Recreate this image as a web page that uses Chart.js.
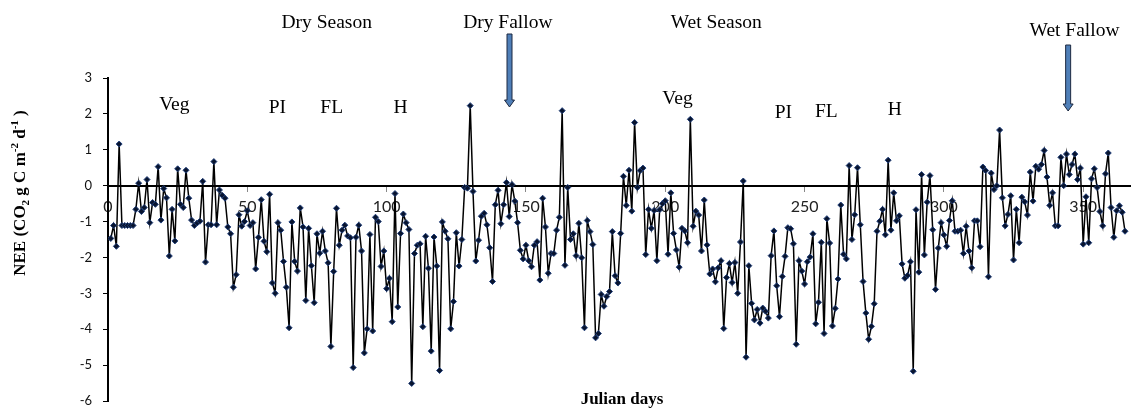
<!DOCTYPE html>
<html>
<head>
<meta charset="utf-8">
<title>NEE by Julian day</title>
<style>
  html, body { margin: 0; padding: 0; background: #ffffff; }
  #wrap { width: 1135px; height: 408px; position: relative; }
</style>
<script src="https://cdn.jsdelivr.net/npm/chart.js@4.4.1/dist/chart.umd.min.js"></script>
</head>
<body>
<div id="wrap"><canvas id="nee" width="1135" height="408"></canvas></div>
<script>
// Daily net ecosystem exchange (g C m-2 d-1), one value per Julian day starting at day 1
const firstDay = 1;
const neeValues = [
  -1.47, -1.11, -1.69, 1.16, -1.11, -1.11, -1.11, -1.11, -1.11, -0.66,
  0.07, -0.72, -0.61, 0.17, -1.03, -0.47, -0.52, 0.53, -0.96, -0.08,
  -0.34, -1.96, -0.66, -1.54, 0.47, -0.52, -0.61, 0.43, -0.35, -0.96,
  -1.11, -1.04, -0.99, 0.12, -2.13, -1.09, -1.09, 0.67, -1.09, -0.12,
  -0.27, -0.35, -1.15, -1.34, -2.83, -2.48, -0.81, -1.13, -1.00, -0.70,
  -1.11, -1.03, -2.32, -1.44, -0.39, -1.55, -1.84, -0.24, -2.71, -3.00,
  -1.03, -1.24, -2.11, -2.83, -3.96, -1.01, -2.11, -2.38, -0.62, -1.15,
  -3.20, -1.19, -2.23, -3.26, -1.34, -1.88, -1.27, -1.82, -2.15, -4.48,
  -2.39, -0.63, -1.66, -1.24, -1.10, -1.40, -1.45, -5.07, -1.44, -1.10,
  -1.82, -4.66, -3.99, -1.36, -4.05, -0.88, -1.00, -2.25, -1.82, -2.87,
  -2.58, -3.79, -0.22, -3.38, -1.33, -0.79, -1.03, -1.22, -5.51, -1.89,
  -1.66, -1.62, -3.93, -1.41, -2.30, -4.61, -1.43, -2.24, -5.15, -1.01,
  -1.27, -1.48, -3.99, -3.23, -1.31, -2.24, -1.50, -0.05, -0.07, 2.23,
  -0.16, -2.10, -1.52, -0.85, -0.77, -1.09, -1.73, -2.67, -0.53, -0.13,
  -1.06, -0.53, 0.09, -0.86, 0.03, -0.43, -1.03, -1.80, -2.04, -1.66,
  -2.09, -2.26, -1.66, -1.56, -2.63, -0.35, -1.15, -2.44, -1.89, -1.89,
  -1.24, -0.88, 2.09, -2.22, -0.05, -1.50, -1.34, -1.95, -1.05, -2.01,
  -3.96, -0.97, -1.28, -1.64, -4.24, -4.12, -3.03, -3.36, -3.09, -2.95,
  -1.28, -2.51, -2.71, -1.33, 0.26, -0.55, 0.43, -0.71, 1.76, -0.05,
  0.42, 0.49, -1.92, -0.66, -1.19, -0.69, -2.09, -0.67, -0.50, -0.42,
  -1.91, -0.20, -1.33, -1.79, -2.27, -1.19, -1.26, -1.59, 1.85, -1.13,
  -0.71, -0.82, -1.82, -0.40, -1.65, -2.46, -2.32, -2.68, -2.29, -2.09,
  -3.98, -2.56, -2.17, -2.70, -2.14, -3.00, -1.57, 0.13, -4.78, -2.23,
  -3.28, -3.74, -3.45, -3.83, -3.41, -3.50, -3.69, -1.95, -1.26, -2.79,
  -3.65, -2.53, -1.97, -1.17, -1.20, -1.62, -4.42, -2.09, -2.38, -2.74,
  -2.12, -1.99, -1.34, -3.85, -3.25, -1.58, -4.12, -0.92, -1.60, -3.91,
  -3.42, -2.60, -0.54, -1.91, -2.04, 0.56, -1.50, -0.81, 0.50, -1.09,
  -2.67, -3.55, -4.28, -3.92, -3.29, -1.27, -0.99, -0.66, -1.37, 0.71,
  -1.24, -0.20, -0.98, -0.84, -2.18, -2.58, -2.50, -2.12, -5.17, -0.67,
  -2.41, 0.31, -1.93, -0.46, 0.28, -1.23, -2.89, -1.74, -1.03, -1.37,
  -1.69, -0.97, -0.42, -1.27, -1.27, -1.24, -1.89, -1.13, -1.82, -2.29,
  -0.98, -0.98, -1.70, 0.52, 0.42, -2.54, 0.35, -0.11, 0.00, 1.55,
  -0.34, -1.12, -0.80, -0.28, -2.07, -0.66, -1.59, -0.32, -0.45, -0.82,
  0.38, -0.43, 0.54, 0.46, 0.59, 0.98, 0.24, -0.55, -0.20, -1.12,
  -1.12, 0.79, 0.00, 0.88, 0.31, 0.59, 0.88, 0.17, 0.49, -1.63,
  -0.31, -1.59, 0.19, 0.47, -0.05, -0.72, -1.12, 0.33, 0.91, -0.61,
  -1.44, -0.70, -0.56, -0.74, -1.27
];

// Axis ticks
const xTickValues = [0, 50, 100, 150, 200, 250, 300, 350];
const yTickValues = [3, 2, 1, 0, -1, -2, -3, -4, -5, -6];

// Season headings above the plot (label, centre day, baseline px)
const seasonNames = ['Dry Season', 'Dry Fallow', 'Wet Season', 'Wet Fallow'];
const seasonDays = [78.5, 143.5, 218.3, 346.9];
const seasonBaselines = [28, 28, 28, 36];

// Crop growth stages (label, centre day, baseline px)
const stageNames = ['Veg', 'PI', 'FL', 'H', 'Veg', 'PI', 'FL', 'H'];
const stageDays = [23.8, 60.8, 80.3, 105, 204.4, 242.4, 257.8, 282.4];
const stageBaselines = [110, 113, 113, 113, 104, 118, 117, 115];

// Fallow markers (arrow day, arrow top px, arrow tip px)
const fallowArrowDays = [144.1, 344.6];
const fallowArrowTops = [34, 45];
const fallowArrowTips = [107, 111];

const points = neeValues.map((v, i) => ({ x: firstDay + i, y: v }));

function blockArrow(ctx, cx, top, tip, shaftW, headW, headH) {
  ctx.beginPath();
  ctx.moveTo(cx - shaftW / 2, top);
  ctx.lineTo(cx + shaftW / 2, top);
  ctx.lineTo(cx + shaftW / 2, tip - headH);
  ctx.lineTo(cx + headW / 2, tip - headH);
  ctx.lineTo(cx, tip);
  ctx.lineTo(cx - headW / 2, tip - headH);
  ctx.lineTo(cx - shaftW / 2, tip - headH);
  ctx.closePath();
  ctx.fillStyle = '#4f7fb8';
  ctx.fill();
  ctx.lineWidth = 1;
  ctx.strokeStyle = '#1d2940';
  ctx.stroke();
}

// Rotated y-axis title with sub/superscripts
function drawYTitle(ctx, cx, cy) {
  const size = 17;
  const small = 11;
  const parts = [
    { t: 'NEE (CO', s: size, dy: 0 },
    { t: '2', s: small, dy: 4 },
    { t: ' g C m', s: size, dy: 0 },
    { t: '-2', s: small, dy: -7 },
    { t: ' d', s: size, dy: 0 },
    { t: '-1', s: small, dy: -7 },
    { t: ' )', s: size, dy: 0 }
  ];
  ctx.save();
  ctx.translate(cx, cy);
  ctx.rotate(-Math.PI / 2);
  ctx.fillStyle = '#000';
  ctx.textBaseline = 'alphabetic';
  ctx.textAlign = 'left';
  let total = 0;
  parts.forEach(p => {
    ctx.font = 'bold ' + p.s + 'px "Liberation Serif", serif';
    p.w = ctx.measureText(p.t).width;
    total += p.w;
  });
  let x = -total / 2;
  parts.forEach(p => {
    ctx.font = 'bold ' + p.s + 'px "Liberation Serif", serif';
    ctx.fillText(p.t, x, p.dy);
    x += p.w;
  });
  ctx.restore();
}

const annotations = {
  id: 'seasonAnnotations',
  afterDraw(chart) {
    const ctx = chart.ctx;
    const xs = chart.scales.x;
    const area = chart.chartArea;
    ctx.save();
    fallowArrowDays.forEach((d, i) => {
      blockArrow(ctx, xs.getPixelForValue(d), fallowArrowTops[i], fallowArrowTips[i], 5, 10, 7);
    });
    ctx.fillStyle = '#000';
    ctx.textAlign = 'center';
    ctx.textBaseline = 'alphabetic';
    ctx.font = '19.5px "Liberation Serif", serif';
    seasonNames.forEach((name, i) => {
      ctx.fillText(name, xs.getPixelForValue(seasonDays[i]), seasonBaselines[i]);
    });
    stageNames.forEach((name, i) => {
      ctx.fillText(name, xs.getPixelForValue(stageDays[i]), stageBaselines[i]);
    });
    ctx.font = 'bold 17px "Liberation Serif", serif';
    ctx.fillText('Julian days', (area.left + area.right) / 2 + 3, 404);
    ctx.restore();
    drawYTitle(ctx, 25, 193);
  }
};

new Chart(document.getElementById('nee'), {
  type: 'line',
  data: {
    datasets: [{
      label: 'NEE',
      data: points,
      borderColor: '#000000',
      borderWidth: 1.5,
      pointStyle: 'rectRot',
      pointRadius: 3,
      pointBackgroundColor: '#08142e',
      pointBorderColor: '#1f3d78',
      pointBorderWidth: 1,
      tension: 0,
      fill: false
    }]
  },
  options: {
    responsive: false,
    animation: false,
    events: [],
    layout: { padding: { top: 78, bottom: 7, left: 0, right: 0 } },
    plugins: { legend: { display: false }, tooltip: { enabled: false } },
    scales: {
      x: {
        type: 'linear',
        min: 0,
        max: 366.8,
        position: { y: 0 },
        afterFit(scale) {
          scale.paddingLeft = 0;
          scale.paddingRight = 0;
          scale.paddingTop = 0;
          scale.paddingBottom = 0;
        },
        afterBuildTicks(scale) {
          scale.ticks = xTickValues.map(v => ({ value: v }));
        },
        ticks: {
          autoSkip: false,
          maxRotation: 0,
          padding: 7,
          color: '#222',
          font: { family: 'Lato', size: 16 }
        },
        grid: { drawOnChartArea: false, drawTicks: true, tickLength: 5, color: '#888', lineWidth: 1 },
        border: { display: true, color: '#000', width: 2 }
      },
      y: {
        type: 'linear',
        min: -6,
        max: 3,
        afterFit(scale) {
          scale.width = 108;
          scale.paddingTop = 0;
          scale.paddingBottom = 0;
        },
        afterBuildTicks(scale) {
          scale.ticks = yTickValues.map(v => ({ value: v }));
        },
        ticks: {
          padding: 11,
          color: '#111',
          font: { family: 'Lato', size: 13 }
        },
        grid: { drawOnChartArea: false, drawTicks: true, tickLength: 5, color: '#000', lineWidth: 1 },
        border: { display: true, color: '#000', width: 2 }
      }
    }
  },
  plugins: [annotations]
});
</script>
</body>
</html>
